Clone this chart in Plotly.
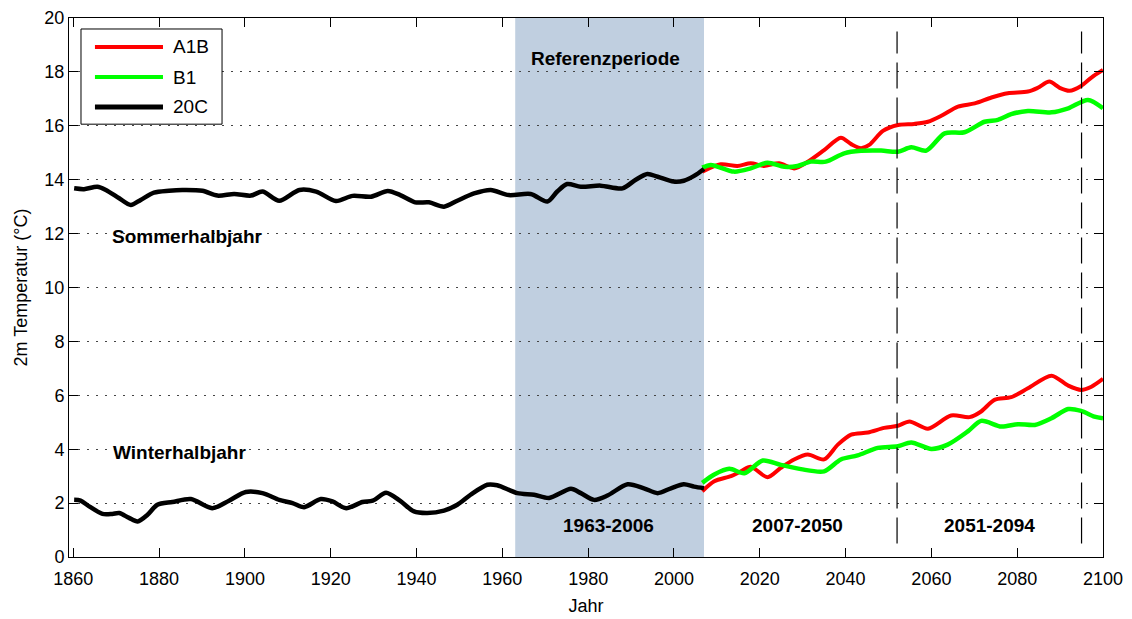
import plotly.graph_objects as go

# ---------------- data ----------------
sommer_20c_jahr = [1860.2, 1862.5, 1865.6, 1867.6, 1870.7, 1873.4, 1875.7, 1878.8, 1882.3, 1885.4,
                   1890.1, 1893.6, 1897.5, 1901.4, 1904.1, 1908.0, 1912.7, 1916.6, 1921.2, 1925.1,
                   1929.4, 1933.3, 1936.2, 1939.7, 1942.9, 1946.4, 1949.5, 1953.4, 1957.3, 1961.5,
                   1966.6, 1970.5, 1972.8, 1975.1, 1978.3, 1982.9, 1988.0, 1991.1, 1993.8, 1996.2,
                   1999.9, 2002.3, 2004.7, 2007.0]
sommer_20c_temp = [13.68, 13.65, 13.74, 13.62, 13.31, 13.06, 13.25, 13.52, 13.59, 13.62,
                   13.59, 13.41, 13.47, 13.41, 13.56, 13.22, 13.62, 13.56, 13.21, 13.40,
                   13.37, 13.58, 13.43, 13.16, 13.16, 13.00, 13.22, 13.49, 13.62, 13.43,
                   13.47, 13.19, 13.56, 13.84, 13.74, 13.78, 13.68, 14.00, 14.21, 14.11,
                   13.93, 13.96, 14.14, 14.40]

sommer_a1b_jahr = [2006.6, 2010.9, 2014.8, 2017.9, 2021.0, 2024.5, 2028.0, 2031.2, 2035.0, 2038.9,
                   2041.3, 2043.6, 2045.5, 2048.7, 2052.2, 2056.0, 2059.2, 2062.3, 2066.2, 2070.1,
                   2074.0, 2077.8, 2082.5, 2084.8, 2087.5, 2089.9, 2092.2, 2094.9, 2097.3, 2100.0]
sommer_a1b_temp = [14.30, 14.57, 14.51, 14.61, 14.51, 14.61, 14.42, 14.67, 15.10, 15.56,
                   15.32, 15.17, 15.29, 15.81, 16.03, 16.07, 16.15, 16.37, 16.71, 16.83,
                   17.05, 17.21, 17.27, 17.41, 17.64, 17.41, 17.30, 17.48, 17.79, 18.07]

sommer_b1_jahr = [2006.6, 2008.6, 2014.0, 2017.9, 2021.8, 2025.7, 2028.8, 2031.9, 2035.4, 2039.7,
                  2043.6, 2048.3, 2052.2, 2055.3, 2058.8, 2063.1, 2067.7, 2072.4, 2075.5, 2078.6,
                  2082.5, 2088.0, 2091.9, 2096.5, 2100.0]
sommer_b1_temp = [14.45, 14.55, 14.30, 14.42, 14.63, 14.48, 14.51, 14.67, 14.67, 14.98,
                  15.07, 15.08, 15.04, 15.20, 15.08, 15.72, 15.76, 16.15, 16.22, 16.43,
                  16.55, 16.50, 16.65, 16.96, 16.65]

winter_20c_jahr = [1860.2, 1861.7, 1863.7, 1866.8, 1869.1, 1870.7, 1873.0, 1875.0, 1877.3, 1879.6,
                   1883.1, 1887.4, 1892.4, 1896.3, 1900.2, 1904.1, 1908.0, 1911.1, 1913.8, 1917.7,
                   1920.4, 1923.6, 1927.4, 1929.8, 1932.9, 1936.2, 1939.4, 1942.5, 1946.4, 1949.5,
                   1952.6, 1956.5, 1958.8, 1963.5, 1967.4, 1970.9, 1976.0, 1978.3, 1981.4, 1984.5,
                   1989.2, 1993.0, 1996.2, 1999.3, 2002.3, 2004.7, 2007.0]
winter_20c_temp = [2.12, 2.09, 1.88, 1.60, 1.60, 1.63, 1.45, 1.32, 1.57, 1.94,
                   2.04, 2.15, 1.81, 2.09, 2.41, 2.37, 2.12, 2.00, 1.85, 2.15,
                   2.06, 1.81, 2.04, 2.09, 2.38, 2.08, 1.69, 1.63, 1.72, 1.94,
                   2.31, 2.68, 2.66, 2.37, 2.31, 2.19, 2.53, 2.37, 2.12, 2.28,
                   2.70, 2.55, 2.37, 2.55, 2.70, 2.61, 2.55]

winter_a1b_jahr = [2006.6, 2009.4, 2013.3, 2015.6, 2017.9, 2021.8, 2024.9, 2028.0, 2031.2, 2035.0,
                   2038.2, 2041.3, 2045.2, 2049.0, 2052.2, 2054.9, 2059.2, 2064.6, 2068.9, 2071.6,
                   2074.7, 2078.6, 2082.5, 2088.0, 2091.9, 2094.9, 2097.3, 2100.0]
winter_a1b_temp = [2.44, 2.81, 3.00, 3.18, 3.35, 2.96, 3.31, 3.62, 3.80, 3.62,
                   4.17, 4.54, 4.62, 4.79, 4.87, 5.03, 4.76, 5.25, 5.19, 5.40,
                   5.83, 5.93, 6.26, 6.73, 6.36, 6.20, 6.32, 6.61]

winter_b1_jahr = [2006.6, 2009.4, 2012.9, 2016.4, 2020.7, 2024.9, 2029.6, 2035.0, 2038.9, 2042.8,
                  2047.5, 2052.2, 2055.3, 2060.0, 2063.8, 2068.5, 2071.6, 2076.3, 2080.2, 2084.1,
                  2088.0, 2091.9, 2094.9, 2098.0, 2100.0]
winter_b1_temp = [2.75, 3.06, 3.27, 3.11, 3.58, 3.42, 3.26, 3.18, 3.62, 3.77,
                  4.05, 4.11, 4.25, 4.01, 4.17, 4.66, 5.05, 4.84, 4.93, 4.90,
                  5.15, 5.49, 5.42, 5.21, 5.15]

referenz_periode = [1963, 2007]
zeitscheiben_grenzen = [2052, 2095]
x_ticks = list(range(1860, 2101, 20))
y_ticks = list(range(0, 21, 2))

FONT = "Liberation Sans, Arial, Helvetica, sans-serif"
RED = "#ff0000"
GREEN = "#00ff00"
BLACK = "#000000"

fig = go.Figure()

def add_line(x, y, color, width, name):
    fig.add_trace(go.Scatter(x=x, y=y, mode="lines", name=name, showlegend=False,
                             line=dict(color=color, width=width, shape="spline", smoothing=0.8)))

add_line(sommer_a1b_jahr, sommer_a1b_temp, RED, 4, "A1B")
add_line(sommer_b1_jahr, sommer_b1_temp, GREEN, 4.5, "B1")
add_line(winter_a1b_jahr, winter_a1b_temp, RED, 4, "A1B")
add_line(winter_b1_jahr, winter_b1_temp, GREEN, 4.5, "B1")
add_line(sommer_20c_jahr, sommer_20c_temp, BLACK, 4.5, "20C")
add_line(winter_20c_jahr, winter_20c_temp, BLACK, 4.5, "20C")

# reference period shading
fig.add_shape(type="rect", xref="x", yref="y", x0=referenz_periode[0], x1=referenz_periode[1],
              y0=0, y1=20, fillcolor="#c0cfe0", line_width=0, layer="below")

# dashed period separators
for xv in zeitscheiben_grenzen:
    fig.add_shape(type="line", xref="x", yref="y", x0=xv, x1=xv, y0=0.5, y1=19.5,
                  line=dict(color=BLACK, width=1.2, dash="26px,9px"))

# text annotations
def txt(x, y, s):
    fig.add_annotation(x=x, y=y, xref="x", yref="y", text="<b>%s</b>" % s, showarrow=False,
                       font=dict(family=FONT, size=19, color=BLACK))

txt(1984.0, 18.5, "Referenzperiode")
txt(1984.7, 1.16, "1963-2006")
txt(2028.7, 1.16, "2007-2050")
txt(2073.6, 1.16, "2051-2094")
txt(1886.6, 11.88, "Sommerhalbjahr")
txt(1884.7, 3.87, "Winterhalbjahr")

# manual legend (paper coords)
fig.add_shape(type="rect", xref="paper", yref="paper", x0=0.0116, x1=0.148, y0=0.803, y1=0.9796,
              line=dict(color=BLACK, width=1), fillcolor="white", layer="above")
leg = [("A1B", RED, 4, 0.9462), ("B1", GREEN, 4, 0.8905), ("20C", BLACK, 5, 0.8349)]
for name, col, w, yy in leg:
    fig.add_shape(type="line", xref="paper", yref="paper", x0=0.0251, x1=0.0909, y0=yy, y1=yy,
                  line=dict(color=col, width=w), layer="above")
    fig.add_annotation(x=0.0986, y=yy, xref="paper", yref="paper", text=name, showarrow=False,
                       xanchor="left", yanchor="middle", font=dict(family=FONT, size=19, color=BLACK))

# the page body adds an 8px offset (top/left); figure size and margins compensate
fig.update_layout(
    width=1124, height=611,
    margin=dict(l=61, r=29, t=10, b=62, autoexpand=False),
    paper_bgcolor="white", plot_bgcolor="white",
    font=dict(family=FONT, size=18, color=BLACK),
    showlegend=False,
)
fig.update_xaxes(range=[1859, 2100], tickvals=x_ticks, ticks="inside", ticklen=9, tickwidth=1,
                 tickcolor=BLACK, showline=True, linecolor=BLACK, linewidth=1, mirror="ticks",
                 showgrid=False, zeroline=False, automargin=False, ticklabelstandoff=5,
                 title=dict(text="Jahr", font=dict(size=18), standoff=11),
                 tickfont=dict(size=18))
fig.update_yaxes(range=[0, 20], tickvals=y_ticks, ticks="inside", ticklen=9, tickwidth=1,
                 tickcolor=BLACK, showline=True, linecolor=BLACK, linewidth=1, mirror="ticks",
                 showgrid=True, gridcolor="#444444", griddash="2px,7px", gridwidth=1, zeroline=False,
                 automargin=False,
                 title=dict(text="2m Temperatur (°C)", font=dict(size=18), standoff=12),
                 tickfont=dict(size=18))

fig.write_html("out.html")
